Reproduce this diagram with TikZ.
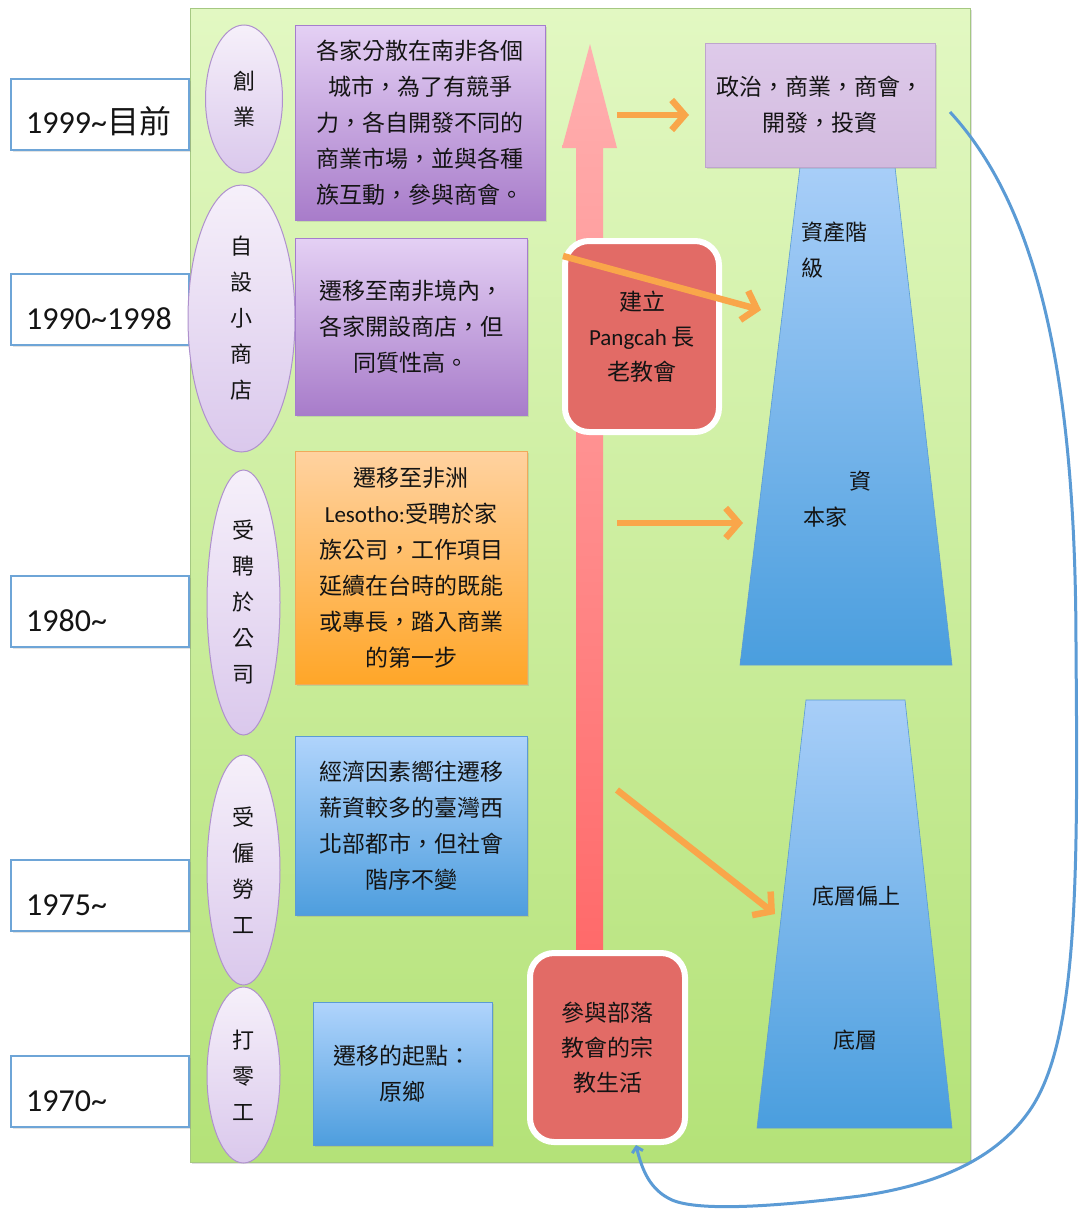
\documentclass[tikz,border=0pt]{standalone}
\usepackage{fontspec}
\setmainfont{Carlito}
\newfontfamily\cjk{Noto Sans CJK TC}
\newfontfamily\carl{Carlito}
\usetikzlibrary{shapes.geometric,arrows.meta,shadows}
\definecolor{txt}{RGB}{20,20,20}
\definecolor{bgtop}{RGB}{226,248,194}
\definecolor{bgbot}{RGB}{180,226,120}
\definecolor{bgline}{RGB}{165,200,130}
\definecolor{yrline}{RGB}{110,165,215}
\definecolor{elltop}{RGB}{246,240,250}
\definecolor{ellbot}{RGB}{218,200,236}
\definecolor{ellline}{RGB}{175,145,205}
\definecolor{purtop}{RGB}{228,208,244}
\definecolor{purbot}{RGB}{168,124,202}
\definecolor{purline}{RGB}{165,125,205}
\definecolor{orgtop}{RGB}{255,210,160}
\definecolor{orgbot}{RGB}{255,166,40}
\definecolor{orgline}{RGB}{240,170,90}
\definecolor{blutop}{RGB}{176,212,252}
\definecolor{blubot}{RGB}{78,158,222}
\definecolor{bluline}{RGB}{91,155,213}
\definecolor{redfill}{RGB}{226,107,102}
\definecolor{pinktop}{RGB}{255,176,176}
\definecolor{pinkbot}{RGB}{255,106,106}
\definecolor{arrorg}{RGB}{249,166,74}
\definecolor{lavtop}{RGB}{222,202,234}
\definecolor{lavbot}{RGB}{210,186,222}
\definecolor{lavline}{RGB}{190,165,205}
\definecolor{trtop}{RGB}{168,206,248}
\definecolor{trbot}{RGB}{74,158,222}
\definecolor{curvec}{RGB}{91,155,213}
\begin{document}
\begin{tikzpicture}[x=1pt,y=-1pt,
  softshadow/.style={drop shadow={opacity=0.22, shadow xshift=1.5pt, shadow yshift=-2pt}},
  yearbox/.style={draw=yrline, line width=1.2pt, fill=white, minimum width=178pt, minimum height=71pt, inner sep=0pt, softshadow},
  yeartext/.style={anchor=base west, font=\fontsize{32}{36}\selectfont, inner sep=0pt, text=txt},
  stage/.style={ellipse, draw=ellline, line width=1pt, top color=elltop, bottom color=ellbot, inner sep=0pt, font=\cjk\fontsize{22}{36}\selectfont, align=center, text=txt},
  desc/.style={rectangle, inner sep=0pt, font=\cjk\fontsize{23}{36}\selectfont, align=center, text=txt, line width=0.8pt, softshadow},
  purbox/.style={desc, draw=purline, top color=purtop, bottom color=purbot},
  orgbox/.style={desc, draw=orgline, top color=orgtop, bottom color=orgbot},
  blubox/.style={desc, draw=bluline, top color=blutop, bottom color=blubot},
  lavbox/.style={desc, draw=lavline, top color=lavtop, bottom color=lavbot},
  church/.style={rectangle, rounded corners=24pt, draw=white, line width=6pt, fill=redfill, inner sep=0pt, font=\cjk\fontsize{23}{35}\selectfont, align=center, text=txt, drop shadow={opacity=0.18, shadow xshift=1pt, shadow yshift=-1.5pt}},
  trtext/.style={inner sep=0pt, font=\cjk\fontsize{22}{36}\selectfont, text=txt},
  oarrow/.style={draw=arrorg, line width=6.5pt, -{Straight Barb[length=13pt,width=30pt]}},
  trap/.style={draw=bluline, line width=0.6pt, top color=trtop, bottom color=trbot}
]
\useasboundingbox (0,0) rectangle (1086,1213);
\fill[white] (0,0) rectangle (1086,1213);

% background panel
\node[draw=bgline, line width=0.8pt, top color=bgtop, bottom color=bgbot, minimum width=780pt, minimum height=1154pt, inner sep=0pt, drop shadow={opacity=0.25, shadow xshift=2pt, shadow yshift=-2pt}] (panel) at (580,585) {};

% year boxes
\node[yearbox] (y1) at (100,114.5) {};
\node[yeartext] (y1t) at (26,133) {1999\textasciitilde{\cjk 目前}};
\node[yearbox] (y2) at (100,309.5) {};
\node[yeartext] (y2t) at (26,329) {1990\textasciitilde1998};
\node[yearbox] (y3) at (100,611.5) {};
\node[yeartext] (y3t) at (26,631) {1980\textasciitilde};
\node[yearbox] (y4) at (100,895.5) {};
\node[yeartext] (y4t) at (26,915) {1975\textasciitilde};
\node[yearbox] (y5) at (100,1091.5) {};
\node[yeartext] (y5t) at (26,1111) {1970\textasciitilde};

% stage ellipses
\node[stage, minimum width=77pt, minimum height=148pt] (e1) at (244,99) {創\\業};
\node[stage, minimum width=107pt, minimum height=267pt] (e2) at (241.5,318.5) {自\\設\\小\\商\\店};
\node[stage, minimum width=73pt, minimum height=265pt] (e3) at (243.5,602.5) {受\\聘\\於\\公\\司};
\node[stage, minimum width=73pt, minimum height=230pt] (e4) at (243.5,870) {受\\僱\\勞\\工};
\node[stage, minimum width=73pt, minimum height=176pt] (e5) at (243.5,1075) {打\\零\\工};

% description boxes
\node[purbox, minimum width=250pt, minimum height=195pt] (d1) at (420,122.5) {各家分散在南非各個\\城市，為了有競爭\\力，各自開發不同的\\商業市場，並與各種\\族互動，參與商會。};
\node[purbox, minimum width=232pt, minimum height=177pt] (d2) at (411,326.5) {遷移至南非境內，\\各家開設商店，但\\同質性高。};
\node[orgbox, minimum width=232pt, minimum height=233pt] (d3) at (411,567.5) {遷移至非洲\\{\carl Lesotho:}受聘於家\\族公司，工作項目\\延續在台時的既能\\或專長，踏入商業\\的第一步};
\node[blubox, minimum width=232pt, minimum height=179pt] (d4) at (411,825.5) {經濟因素嚮往遷移\\薪資較多的臺灣西\\北部都市，但社會\\階序不變};
\node[blubox, minimum width=179pt, minimum height=143pt] (d5) at (402.5,1073.5) {遷移的起點：\\原鄉};

% big pink arrow
\path[top color=pinktop, bottom color=pinkbot] (576,950) -- (576,148) -- (562,148) -- (590,44) -- (617,148) -- (603,148) -- (603,950) -- cycle;

% trapezoids
\path[trap] (800,167) -- (895,167) -- (952,665) -- (740,665) -- cycle;
\path[trap] (806,700) -- (905,700) -- (952,1128) -- (757,1128) -- cycle;
\node[trtext, align=left] (tr1) at (834,250) {資產階\\級};
\node[trtext] (tr2) at (860,481) {資};
\node[trtext] (tr3) at (825,517) {本家};
\node[trtext] (tr4) at (856,896) {底層偏上};
\node[trtext] (tr5) at (855,1040) {底層};

% top right box
\node[lavbox, minimum width=230pt, minimum height=124pt] (top) at (820,105) {政治，商業，商會，\\開發，投資};

% church boxes
\node[church, minimum width=154pt, minimum height=191pt] (c1) at (642,336.5) {建立\\{\carl Pangcah} 長\\老教會};
\node[church, minimum width=155pt, minimum height=189pt] (c2) at (607.5,1047.5) {參與部落\\教會的宗\\教生活};

% orange arrows
\coordinate (o1s) at (617,115); \coordinate (o1e) at (689,115);
\coordinate (o2s) at (563,256); \coordinate (o2e) at (761,310);
\coordinate (o3s) at (617,523); \coordinate (o3e) at (743,523);
\coordinate (o4s) at (617,790); \coordinate (o4e) at (775,914);
\draw[oarrow] (o1s) -- (o1e);
\draw[oarrow] (o2s) -- (o2e);
\draw[oarrow] (o3s) -- (o3e);
\draw[oarrow] (o4s) -- (o4e);

% blue return curve
\coordinate (cs) at (950,112);
\coordinate (ce) at (636,1145);
\draw[curvec, line width=3pt, -{Straight Barb[length=5pt,width=11pt]}] (cs)
  .. controls (1045,215) and (1076,400) .. (1076,650)
  .. controls (1078,880) and (1078,1040) .. (1030,1110)
  .. controls (1001,1152) and (950,1183) .. (860,1196)
  .. controls (780,1206) and (700,1212) .. (672,1200)
  .. controls (650,1190) and (642,1170) .. (ce);
\end{tikzpicture}
\end{document}
